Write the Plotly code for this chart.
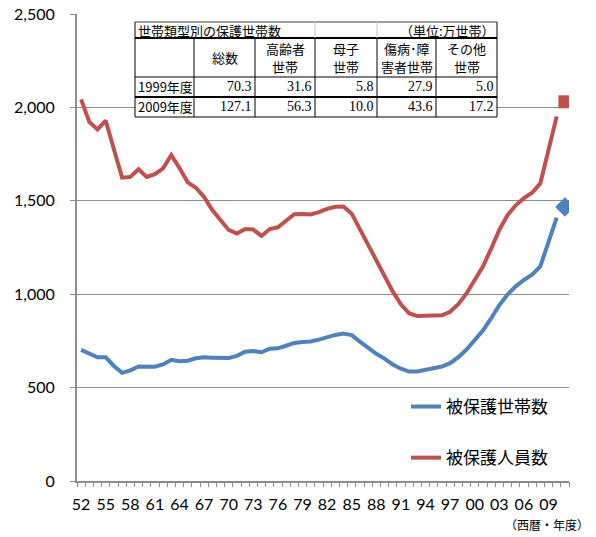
import plotly.graph_objects as go

# ---------------- data ----------------
years = list(range(1952, 2011))
households = [702, 681, 662, 662, 616, 579, 592, 613, 611, 612,
              624, 649, 641, 644, 657, 662, 660, 660, 658, 670,
              692, 696, 689, 708, 710, 724, 739, 744, 747, 757,
              770, 782, 790, 781, 746, 713, 681, 655, 624, 601,
              586, 586, 595, 602, 613, 631, 663, 704, 751, 805,
              870, 941, 998, 1042, 1076, 1105, 1149, 1274, 1410]
persons = [2043, 1922, 1882, 1929, 1776, 1624, 1628, 1669, 1628, 1643,
           1674, 1745, 1675, 1599, 1570, 1521, 1450, 1399, 1344, 1325,
           1349, 1346, 1312, 1349, 1358, 1393, 1428, 1430, 1427, 1439,
           1457, 1468, 1469, 1431, 1348, 1266, 1176, 1100, 1015, 946,
           898, 883, 885, 882, 887, 906, 947, 1004, 1072, 1148,
           1243, 1344, 1423, 1476, 1514, 1543, 1593, 1764, 1952]
marker_year = [2011]
marker_households = [1467]
marker_persons = [2030]

tick_years = list(range(1952, 2010, 3))
tick_labels = ["52", "55", "58", "61", "64", "67", "70", "73", "76", "79",
               "82", "85", "88", "91", "94", "97", "00", "03", "06", "09"]
y_ticks = [0, 500, 1000, 1500, 2000, 2500]

series_names = ["被保護世帯数", "被保護人員数"]

table_title = "世帯類型別の保護世帯数"
table_unit = "（単位:万世帯）"
table_headers = [["総数"], ["高齢者", "世帯"], ["母子", "世帯"], ["傷病･障", "害者世帯"], ["その他", "世帯"]]
table_rows = ["1999年度", "2009年度"]
table_1999 = ["70.3", "31.6", "5.8", "27.9", "5.0"]
table_2009 = ["127.1", "56.3", "10.0", "43.6", "17.2"]

# ---------------- style ----------------
BLUE = "#4F81BD"
RED = "#C0504D"
GRID = "#8C8C8C"
CJK = "Noto Sans CJK JP"
NUM = "Lato"
SERIF = "Liberation Serif"

W, H = 596, 537
L, R, T, B = 77, 27, 14, 56
PW, PH = W - L - R, H - T - B


def px(x):
    return (x - L) / PW


def py(y):
    return (H - B - y) / PH


fig = go.Figure()
fig.add_trace(go.Scatter(x=years, y=households, mode="lines", name=series_names[0],
                         line=dict(color=BLUE, width=4), legendgroup="a"))
fig.add_trace(go.Scatter(x=years, y=persons, mode="lines", name=series_names[1],
                         line=dict(color=RED, width=4), legendgroup="b"))
fig.add_trace(go.Scatter(x=marker_year, y=marker_households, mode="markers", showlegend=False,
                         marker=dict(symbol="diamond", size=15, color=BLUE)))
fig.add_trace(go.Scatter(x=marker_year, y=marker_persons, mode="markers", showlegend=False,
                         marker=dict(symbol="square", size=13, color=RED)))
# invisible helper trace carrying the category-boundary tick axis
fig.add_trace(go.Scatter(x=[years[0]], y=[0], xaxis="x2", mode="markers",
                         marker=dict(opacity=0, size=1), showlegend=False, hoverinfo="skip"))

shapes = []
annotations = []

# table geometry (pixels)
cols = [135, 194, 255, 315, 377, 436, 497]
rows = [22, 38, 77, 97, 117]

shapes.append(dict(type="rect", xref="paper", yref="paper",
                   x0=px(cols[0]), x1=px(cols[-1]), y0=py(rows[-1]), y1=py(rows[0]),
                   fillcolor="white", line=dict(width=0), layer="above"))


def hline(y, x0, x1, w=1, c="black"):
    shapes.append(dict(type="line", xref="paper", yref="paper", x0=px(x0), x1=px(x1),
                       y0=py(y), y1=py(y), line=dict(color=c, width=w), layer="above"))


def vline(x, y0, y1, w=1, c="black"):
    shapes.append(dict(type="line", xref="paper", yref="paper", x0=px(x), x1=px(x),
                       y0=py(y0), y1=py(y1), line=dict(color=c, width=w), layer="above"))


hline(rows[0], cols[0], cols[-1], 1, "#404040")
hline(rows[1], cols[0], cols[-1], 2)
hline(rows[2], cols[0], cols[-1], 1)
hline(rows[3], cols[0], cols[-1], 2)
hline(rows[4], cols[0], cols[-1], 1)
vline(cols[0], rows[0], rows[-1])
vline(cols[-1], rows[0], rows[-1])
for c in cols[1:-1]:
    vline(c, rows[1], rows[-1])
for c in [cols[3], cols[4]]:
    vline(c, rows[0], rows[1], 1, "#C8C8C8")


def txt(text, x, y, xanchor, family=CJK, size=13):
    annotations.append(dict(text=text, xref="paper", yref="paper", x=px(x), y=py(y),
                            xanchor=xanchor, yanchor="middle", showarrow=False, borderpad=0,
                            font=dict(family=family, size=size, color="black")))


txt(table_title, cols[0] + 2, (rows[0] + rows[1]) / 2, "left")
txt(table_unit, cols[-1] - 1, (rows[0] + rows[1]) / 2, "right")
for i, lines in enumerate(table_headers):
    xc = (cols[i + 1] + cols[i + 2]) / 2
    if len(lines) == 1:
        txt(lines[0], xc, (rows[1] + rows[2]) / 2, "center")
    else:
        txt(lines[0], xc, rows[1] + 10, "center")
        txt(lines[1], xc, rows[1] + 29, "center")
for r, (lab, vals) in enumerate(zip(table_rows, [table_1999, table_2009])):
    yc = (rows[2 + r] + rows[3 + r]) / 2
    txt(lab, cols[0] + 2, yc, "left")
    for i, v in enumerate(vals):
        txt(v, cols[i + 2] - 2, yc, "right", SERIF, 14)

txt("（西暦・年度）", 590, 524, "right", CJK, 12)

fig.update_layout(
    width=W, height=H,
    margin=dict(l=L, r=R, t=T, b=B, pad=0, autoexpand=False),
    paper_bgcolor="white", plot_bgcolor="white",
    font=dict(family=NUM, size=15, color="black"),
    showlegend=True,
    legend=dict(x=px(406), y=py(389), xanchor="left", yanchor="top",
                font=dict(family=CJK, size=17, color="black"),
                bgcolor="rgba(0,0,0,0)", tracegroupgap=26, traceorder="grouped"),
    shapes=shapes, annotations=annotations,
    xaxis=dict(range=[1951.5, 2011.5], tickvals=tick_years, ticktext=tick_labels,
               ticks="", showgrid=False, zeroline=False, automargin=False,
               showline=True, linecolor=GRID, linewidth=2, ticklabelstandoff=8,
               tickfont=dict(family=NUM, size=16, color="black")),
    xaxis2=dict(range=[1951.5, 2011.5], overlaying="x", anchor="y", side="bottom",
                tickmode="linear", tick0=1951.5, dtick=1, ticks="outside", ticklen=5,
                tickcolor=GRID, tickwidth=1, showticklabels=False, showgrid=False,
                zeroline=False, showline=False, automargin=False),
    yaxis=dict(range=[0, 2500], tickvals=y_ticks, tickformat=",", ticks="outside",
               ticklen=5, tickcolor=GRID, showgrid=True, gridcolor=GRID, gridwidth=1,
               zeroline=False, showline=True, linecolor=GRID, linewidth=2,
               automargin=False, ticklabelstandoff=12,
               tickfont=dict(family=NUM, size=16, color="black")),
)

fig.write_html("out.html", config={"displayModeBar": False},
               post_script="document.body.style.margin='0';document.body.style.padding='0';")
